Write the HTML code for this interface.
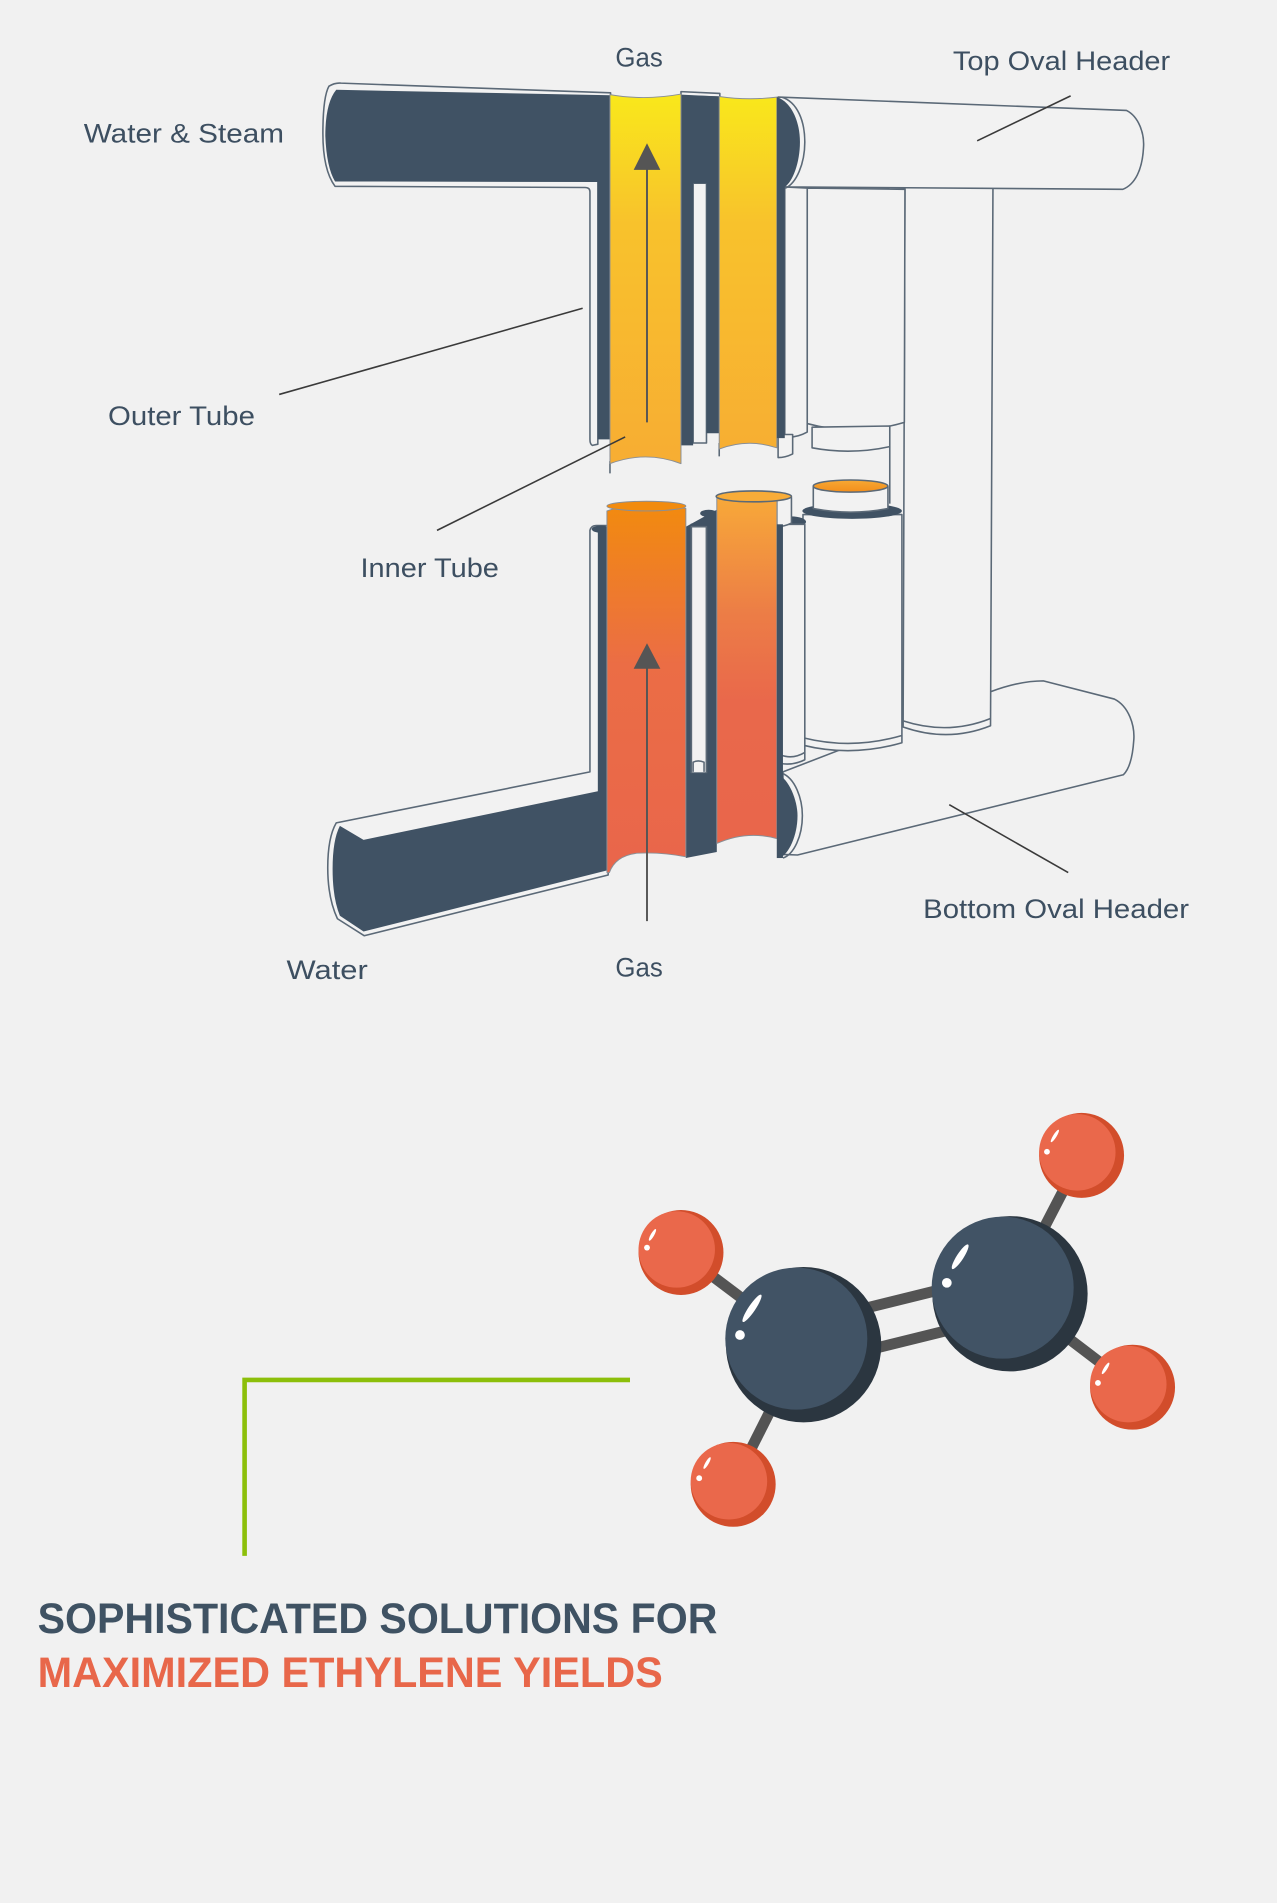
<!DOCTYPE html>
<html>
<head>
<meta charset="utf-8">
<style>
html,body{margin:0;padding:0;background:#f1f1f1;}
svg{display:block;}
</style>
</head>
<body>
<svg width="1277" height="1903" viewBox="0 0 1052 1568" preserveAspectRatio="none" xmlns="http://www.w3.org/2000/svg">
<defs>
  <linearGradient id="gy" x1="0" y1="78" x2="0" y2="382" gradientUnits="userSpaceOnUse">
    <stop offset="0" stop-color="#f9e81b"/>
    <stop offset="0.35" stop-color="#f8c22c"/>
    <stop offset="1" stop-color="#f7ad33"/>
  </linearGradient>
  <linearGradient id="go1" x1="0" y1="414" x2="0" y2="710" gradientUnits="userSpaceOnUse">
    <stop offset="0" stop-color="#f28b0e"/>
    <stop offset="0.45" stop-color="#eb6d45"/>
    <stop offset="1" stop-color="#e9664b"/>
  </linearGradient>
  <linearGradient id="go2" x1="0" y1="404" x2="0" y2="694" gradientUnits="userSpaceOnUse">
    <stop offset="0" stop-color="#f8ab38"/>
    <stop offset="0.35" stop-color="#ec7d46"/>
    <stop offset="0.6" stop-color="#e9684b"/>
    <stop offset="1" stop-color="#e9664b"/>
  </linearGradient>
  <linearGradient id="gd" x1="0" y1="395" x2="0" y2="406" gradientUnits="userSpaceOnUse">
    <stop offset="0" stop-color="#f7aa35"/>
    <stop offset="1" stop-color="#f28c1a"/>
  </linearGradient>
</defs>

<rect width="1052" height="1568" fill="#f1f1f1"/>

<g stroke="#5b6977" stroke-width="1.3" stroke-linejoin="round">
  <!-- Bottom oval header -->
  <path d="M645 636 L816 570 Q840 561 859.5 561 L918 576 C930 582 935 598 934 610 C933 625 930 634 925.4 638.4 L657 704.5 L645 704 Z" fill="#f2f2f2"/>
  <!-- Tube C tall -->
  <path d="M745.5 154 L818 155 L816 598 Q781 612 744 599 Z" fill="#f2f2f2"/>
  <path d="M744 594 Q781 606 816 592" fill="none"/>
  <!-- Top oval header -->
  <path d="M641 80 L928 91 C938 96 943 110 942 122 C941 140 935 152 925 156 L647 154 Z" fill="#f2f2f2"/>
  <!-- Tube B top -->
  <path d="M665 155 L745.5 156 L745 348 Q705 360 665 349 Z" fill="#f2f2f2"/>
  <path d="M669 352 L733 351 L733 368 Q701 375 669 369 Z" fill="#f2f2f2"/>
  <line x1="733" y1="368" x2="733" y2="415" fill="none"/>
  <!-- Strip A top -->
  <path d="M646.5 154 L665 155 L665 356 Q656 361 646.5 360 Z" fill="#f2f2f2"/>
  <path d="M641 358 L653 358 L653 374 Q647 377 641 377 Z" fill="#f2f2f2"/>
  <!-- Cylinder D -->
  <path d="M661.5 424 L743 424 L743 612 Q702 624 661.5 614 Z" fill="#f2f2f2"/>
  <path d="M662 608 Q702 618 743 606" fill="none"/>
  <ellipse cx="702" cy="421" rx="41" ry="6.5" fill="#405264" stroke="none"/>
  <path d="M670 401 L731.5 401 L731.5 419 Q701 425 670 419 Z" fill="#f2f2f2"/>
  <ellipse cx="700.7" cy="400.5" rx="30.7" ry="5" fill="url(#gd)"/>
  <!-- lower right strip -->
  <ellipse cx="652" cy="430" rx="12" ry="4.5" fill="#405264" stroke="none"/>
  <path d="M642.6 432 L663 432 L663 626 Q653 631 642.6 629 Z" fill="#f2f2f2"/>
  <path d="M643 622 Q653 626 663 620" fill="none"/>
  <!-- Bottom header dark cap -->
  <path d="M644 637 C655 641 661 658 661 672 C661 689 654 704 645 707" fill="none"/>
  <path d="M640 638 C650 641 657 660 657 672 C657 688 650 704 642 707 L640 707 Z" fill="#405264" stroke="none"/>

  <!-- Top-left pipe (Water & Steam) -->
  <path d="M271 71 Q276 68 281 68.5 L503 76.5 L503 150 L492.5 150 L492.5 366 L488 367 Q486 366 486 362 L486 158 Q486 154.5 482 154.5 L276 153.5 Q266 140 266 110 Q266 80 271 71 Z" fill="#f2f2f2"/>
  <path d="M277 74 L503 78.5 L503 362 L492.5 362 L492.5 150 L276 149.5 Q269 138 268 112 Q268 85 277 74 Z" fill="#405264" stroke="none"/>

  <!-- between yellow tubes -->
  <path d="M561 75.5 L593 77 L593 80 L561 79 Z" fill="#f2f2f2"/>
  <rect x="571" y="151" width="11" height="214" fill="#f2f2f2"/>
  <path d="M561 78 L592.5 79.5 L592.5 357 L582 357 L582 151 L571 151 L571 367 L561 367 Z" fill="#405264" stroke="none"/>
  <path d="M592.5 365 L592.5 376 M502.5 380 L502.5 390" fill="none"/>

  <!-- Yellow tubes -->
  <path d="M502.5 78 Q531 83 561 77.5 L561 382 Q532 371 502.5 382 Z" fill="url(#gy)" stroke="#8a8f96" stroke-width="0.8"/>
  <path d="M592.5 79.5 Q616 83 640 80 L640 369 Q616 361 592.5 370 Z" fill="url(#gy)" stroke="#8a8f96" stroke-width="0.8"/>

  <!-- Right dark strip + cap top -->
  <path d="M644 80 C657 84 663 100 663 117 C663 135 656 151 647 155" fill="none"/>
  <path d="M640 80 C652 84 659 100 659 117 C659 134 653 150 646.5 154 L646.5 361 L640 361 Z" fill="#405264" stroke="none"/>

  <!-- Bottom-left pipe (Water) -->
  <path d="M277 678 L486 636 L486 437 Q487 433 491 433 L501 433 L501 721 L300 771 L278 757 Q270 740 270 715 Q270 690 277 678 Z" fill="#f2f2f2"/>
  <path d="M280 680.5 L299.5 692 L492.5 652 L492.5 436 L501 436 L501 717 L299.5 767.5 L280 754.5 Q274 740 274 716 Q274 692 280 680.5 Z" fill="#405264" stroke="none"/>
  <ellipse cx="495" cy="436" rx="7.5" ry="3" fill="#405264" stroke="none"/>

  <!-- middle lower slot & dark -->
  <rect x="569.5" y="432" width="12.5" height="205" fill="#f2f2f2"/>
  <path d="M565 434 L590.5 420 L590.5 702 L565 707 Z M569.5 434 L582 434 L582 637 L569.5 637 Z" fill="#405264" fill-rule="evenodd" stroke="none"/>
  <path d="M569.5 637 L569.5 434 L582 434 L582 637" fill="none"/>
  <path d="M571 636 L571 628 Q575 626 580 628 L580 636" fill="none"/>
  <ellipse cx="583.8" cy="423" rx="7" ry="3" fill="#405264" stroke="none"/>

  <!-- Orange tube 1 -->
  <path d="M500 421 Q532 410 565 419 L565 706 Q545 702 525 703 Q507 705 502 719 L500 719 Z" fill="url(#go1)" stroke="#8a8f96" stroke-width="0.8"/>
  <ellipse cx="532.5" cy="417" rx="32.5" ry="4" fill="#f28b0e" stroke="#8a8f96" stroke-width="0.8"/>

  <!-- Orange tube 2 -->
  <path d="M640 409 L652 410 L652 431 Q646 434 640 434 Z" fill="#f2f2f2"/>
  <path d="M590.5 409 Q615 402 640 408 L640 691 Q615 684 590.5 695 Z" fill="url(#go2)" stroke="#8a8f96" stroke-width="0.8"/>
  <ellipse cx="621" cy="409" rx="31" ry="4.5" fill="#f8ac38"/>
  <rect x="640" y="432" width="5" height="275" fill="#405264" stroke="none"/>
</g>

<!-- Arrows -->
<g stroke="#555555" stroke-width="1.6">
  <line x1="533" y1="348" x2="533" y2="138"/>
  <line x1="533" y1="759" x2="533" y2="549"/>
</g>
<polygon points="533,118 522,140 544,140" fill="#555555"/>
<polygon points="533,530 522,551 544,551" fill="#555555"/>

<!-- Leader lines -->
<g stroke="#3a3a3a" stroke-width="1.3">
  <line x1="230" y1="325" x2="480" y2="254"/>
  <line x1="360" y1="437" x2="515" y2="360"/>
  <line x1="805" y1="116" x2="882" y2="79"/>
  <line x1="782" y1="663" x2="880" y2="719"/>
</g>

<!-- Labels -->
<g font-family="'Liberation Sans', Arial, sans-serif" font-size="22" fill="#3d4f61">
  <text x="507" y="55" textLength="39" lengthAdjust="spacingAndGlyphs">Gas</text>
  <text x="785" y="57.5" textLength="179" lengthAdjust="spacingAndGlyphs">Top Oval Header</text>
  <text x="69" y="117.5" textLength="165" lengthAdjust="spacingAndGlyphs">Water &amp; Steam</text>
  <text x="89" y="350" textLength="121" lengthAdjust="spacingAndGlyphs">Outer Tube</text>
  <text x="297" y="475.5" textLength="114" lengthAdjust="spacingAndGlyphs">Inner Tube</text>
  <text x="236" y="806.5" textLength="67" lengthAdjust="spacingAndGlyphs">Water</text>
  <text x="507" y="804.5" textLength="39" lengthAdjust="spacingAndGlyphs">Gas</text>
  <text x="760.5" y="756.5" textLength="219" lengthAdjust="spacingAndGlyphs">Bottom Oval Header</text>
</g>

<!-- Molecule bonds -->
<g stroke="#545454" stroke-width="9" stroke-linecap="butt">
  <line x1="662" y1="1108" x2="561" y2="1032"/>
  <line x1="662" y1="1108" x2="604" y2="1223"/>
  <line x1="832" y1="1066" x2="891" y2="952"/>
  <line x1="832" y1="1066" x2="933" y2="1143"/>
  <line x1="658" y1="1091.5" x2="828" y2="1049.5"/>
  <line x1="666" y1="1124.5" x2="836" y2="1082.5"/>
</g>

<!-- Carbons -->
<circle cx="662" cy="1108" r="64" fill="#2b3640"/>
<circle cx="656" cy="1103" r="58.5" fill="#415365"/>
<circle cx="832" cy="1066" r="64" fill="#2b3640"/>
<circle cx="826" cy="1061" r="58.5" fill="#415365"/>

<!-- Hydrogens -->
<circle cx="561" cy="1032" r="35" fill="#d24d2b"/>
<circle cx="557.5" cy="1029.5" r="31.5" fill="#ea684b"/>
<circle cx="604" cy="1223" r="35" fill="#d24d2b"/>
<circle cx="600.5" cy="1220.5" r="31.5" fill="#ea684b"/>
<circle cx="891" cy="952" r="35" fill="#d24d2b"/>
<circle cx="887.5" cy="949.5" r="31.5" fill="#ea684b"/>
<circle cx="933" cy="1143" r="35" fill="#d24d2b"/>
<circle cx="929.5" cy="1140.5" r="31.5" fill="#ea684b"/>

<!-- Highlights -->
<g fill="#ffffff">
  <ellipse cx="619.5" cy="1078" rx="2.8" ry="13.5" transform="rotate(34 619.5 1078)"/>
  <ellipse cx="791" cy="1035.5" rx="2.8" ry="12" transform="rotate(33 791 1035.5)"/>
  <ellipse cx="537.5" cy="1017.5" rx="1.4" ry="5.5" transform="rotate(30 537.5 1017.5)"/>
  <ellipse cx="582.5" cy="1205.5" rx="1.4" ry="5.5" transform="rotate(30 582.5 1205.5)"/>
  <ellipse cx="869" cy="936" rx="1.4" ry="6" transform="rotate(32 869 936)"/>
  <ellipse cx="910.8" cy="1127.5" rx="1.4" ry="5.5" transform="rotate(32 910.8 1127.5)"/>
  <circle cx="609.6" cy="1100" r="4"/>
  <circle cx="780" cy="1057" r="4"/>
  <circle cx="533" cy="1028" r="2.4"/>
  <circle cx="576" cy="1218" r="2.4"/>
  <circle cx="862.5" cy="949" r="2.4"/>
  <circle cx="904.5" cy="1139.5" r="2.4"/>
</g>

<!-- Green bracket -->
<path d="M519 1137 L201.5 1137 L201.5 1282" fill="none" stroke="#8cbf0a" stroke-width="3.8"/>

<!-- Headline -->
<g font-family="'Liberation Sans', Arial, sans-serif" font-weight="bold" font-size="35">
  <text x="31" y="1345.5" fill="#3f5263" textLength="560" lengthAdjust="spacingAndGlyphs">SOPHISTICATED SOLUTIONS FOR</text>
  <text x="31" y="1390" fill="#e8674a" textLength="515" lengthAdjust="spacingAndGlyphs">MAXIMIZED ETHYLENE YIELDS</text>
</g>
</svg>
</body>
</html>
